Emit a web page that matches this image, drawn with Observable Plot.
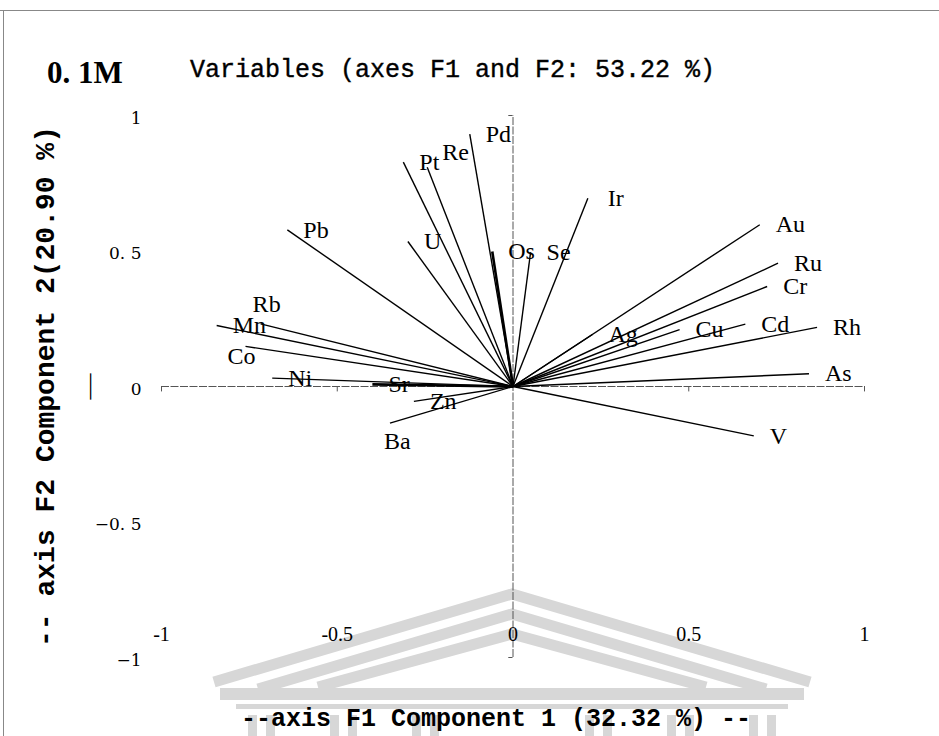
<!DOCTYPE html>
<html>
<head>
<meta charset="utf-8">
<script src="https://cdn.jsdelivr.net/npm/d3@7"></script>
<script src="https://cdn.jsdelivr.net/npm/@observablehq/plot@0.6"></script>
<style>
  html, body { margin: 0; padding: 0; background: #fff; }
  #page { position: relative; width: 939px; height: 736px; overflow: hidden; background: #fff; }
  #frame-top { position: absolute; left: 0; top: 10px; width: 939px; height: 0; border-top: 1px solid #888; }
  #frame-left { position: absolute; left: 3px; top: 10px; width: 0; height: 726px; border-left: 1px solid #888; }
  #head { position: relative; height: 100px; z-index: 2; }
  #conc { position: absolute; left: 47px; top: 55px; font: bold 31px "Liberation Serif", serif; color: #000; }
  #title { position: absolute; left: 190px; top: 56px; font: 25px "Liberation Mono", monospace; color: #000;
           white-space: pre; -webkit-text-stroke: 0.4px #000; }
  #crest { position: absolute; left: 0; top: 0; z-index: 0; }
  #chart { position: relative; z-index: 1; }
</style>
</head>
<body>
<div id="page">
  <!-- faint building crest printed behind the lower part of the chart -->
  <svg id="crest" width="939" height="736">
    <g fill="none" stroke="#d7d7d7" stroke-width="11" stroke-linejoin="miter">
      <polyline points="214,682 512,594 810,682"/>
      <polyline points="258,689 512,614 766,689"/>
      <polyline points="318,687 512,634 706,687"/>
    </g>
    <g fill="#d7d7d7">
      <rect x="220" y="688" width="584" height="12"/>
      <rect x="236" y="704" width="552" height="5"/>
      <rect x="248" y="715" width="9" height="21"/>
      <rect x="266" y="715" width="9" height="21"/>
      <rect x="330" y="715" width="9" height="21"/>
      <rect x="348" y="715" width="9" height="21"/>
      <rect x="412" y="715" width="9" height="21"/>
      <rect x="430" y="715" width="9" height="21"/>
      <rect x="585" y="715" width="9" height="21"/>
      <rect x="603" y="715" width="9" height="21"/>
      <rect x="667" y="715" width="9" height="21"/>
      <rect x="685" y="715" width="9" height="21"/>
      <rect x="749" y="715" width="9" height="21"/>
      <rect x="767" y="715" width="9" height="21"/>
    </g>
  </svg>
  <div id="frame-top"></div>
  <div id="frame-left"></div>
  <div id="head">
    <div id="conc">0. 1M</div>
    <div id="title">Variables (axes F1 and F2: 53.22 %)</div>
  </div>
  <div id="chart"></div>
</div>
<script>
// Loadings of each element on the first two principal components (0.1 M extraction)
const variables = ["Pd", "Pt", "Re", "Pb", "U", "Os", "Se", "Ir", "Au", "Ru", "Cr", "Ag",
                   "Cu", "Cd", "Rh", "As", "V", "Rb", "Mn", "Co", "Ni", "Sr", "Zn", "Ba"];
const f1 = [-0.123, -0.312, -0.244, -0.642, -0.299, -0.059, 0.050, 0.213, 0.702, 0.754, 0.723, 0.226,
             0.474, 0.661, 0.865, 0.842, 0.685, -0.718, -0.843, -0.761, -0.685, -0.400, -0.282, -0.350];
const f2 = [0.931, 0.828, 0.809, 0.578, 0.535, 0.498, 0.495, 0.695, 0.597, 0.455, 0.369, 0.192,
            0.210, 0.230, 0.218, 0.047, -0.182, 0.231, 0.225, 0.148, 0.031, 0.008, -0.055, -0.135];

const axisTicks = [-1, -0.5, 0, 0.5, 1];
const xTickLabels = ["-1", "-0.5", "0", "0.5", "1"];
const yTickLabels = ["\u22121", "\u22120. 5", "0", "0. 5", "1"];

const xTitle = "--axis F1 Component 1 (32.32 %) --";
const yTitle = "-- axis F2 Component 2(20.90 %)";

const rows = variables.map((name, i) => ({name, f1: f1[i], f2: f2[i]}));

// vectors drawn with a heavier stroke where several loadings overlap
const heavy = new Set(["Os", "Sr"]);

// labels moved off their vector end to stay legible: [dx, dy]
const nudged = {Re: [15, -15], Rb: [-8, -20], Co: [-18, 10], Ba: [-6, 18], Ir: [20, 0]};

const labelFont = {fontFamily: "Liberation Serif", fontSize: 24, fill: "black",
                   textAnchor: "start", lineAnchor: "middle"};
const axisStroke = {stroke: "#555", strokeWidth: 1};

const labelMarks = [
  Plot.text(rows.filter(d => !(d.name in nudged)),
            {x: "f1", y: "f2", text: "name", dx: 16, ...labelFont}),
  ...Object.entries(nudged).map(([name, [dx, dy]]) =>
    Plot.text(rows.filter(d => d.name === name),
              {x: "f1", y: "f2", text: "name", dx, dy, ...labelFont}))
];

const chart = Plot.plot({
  width: 939,
  height: 636,
  marginLeft: 161,
  marginRight: 75,
  marginTop: 15,
  marginBottom: 79,
  style: {background: "transparent", overflow: "visible"},
  x: {domain: [-1, 1], label: null},
  y: {domain: [-1, 1], label: null},
  marks: [
    // crossing axes through the origin, with short ticks
    Plot.ruleY([0], {x1: -1, x2: 1, ...axisStroke, strokeDasharray: "8,1.5"}),
    Plot.ruleX([0], {y1: -1, y2: 1, ...axisStroke, strokeDasharray: "8,1.5"}),
    Plot.ruleX(axisTicks.filter(t => t !== 0), {x: d => d, y1: 0, y2: -0.02, ...axisStroke}),
    Plot.ruleY([-1, 1], {y: d => d, x1: 0, x2: -0.012, ...axisStroke}),
    // loading vectors
    Plot.link(rows, {
      x1: 0, y1: 0, x2: "f1", y2: "f2",
      stroke: "black",
      strokeWidth: d => heavy.has(d.name) ? 2.6 : 1.4
    }),
    ...labelMarks,
    Plot.axisX(axisTicks, {
      anchor: "bottom", tickSize: 0, tickPadding: 0, dy: -31, label: null,
      tickFormat: d => xTickLabels[axisTicks.indexOf(d)],
      fontFamily: "Liberation Serif", fontSize: 20, fill: "black"
    }),
    Plot.axisY(axisTicks, {
      anchor: "left", tickSize: 0, tickPadding: 20, dy: 3, label: null,
      tickFormat: d => yTickLabels[axisTicks.indexOf(d)],
      fontFamily: "DejaVu Serif", fontSize: 17, fill: "black"
    }),
    Plot.text([xTitle], {
      frameAnchor: "bottom", dy: 60, dx: -17, text: d => d,
      textAnchor: "middle", lineAnchor: "middle",
      fontFamily: "Liberation Mono", fontWeight: "bold", fontSize: 25, fill: "black"
    }),
    Plot.text([yTitle], {
      frameAnchor: "left", dx: -116, text: d => d, rotate: -90,
      textAnchor: "middle", lineAnchor: "middle",
      fontFamily: "Liberation Mono", fontWeight: "bold", fontSize: 28, fill: "black"
    }),
    Plot.text(["\u2014"], {
      frameAnchor: "left", dx: -73, text: d => d, rotate: -90,
      textAnchor: "middle", lineAnchor: "middle",
      fontFamily: "Liberation Serif", fontSize: 26, fill: "black"
    })
  ]
});

document.getElementById("chart").appendChild(chart);
</script>
</body>
</html>
